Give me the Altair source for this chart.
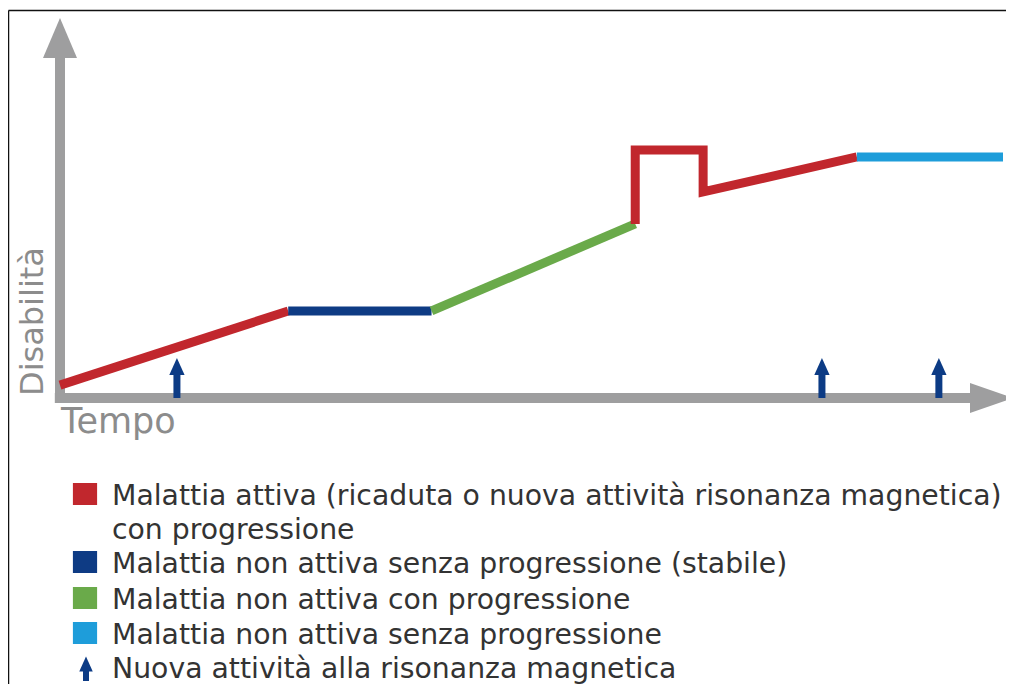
import altair as alt
import pandas as pd

# ---------------- data (time 0-100, disability 0-100) ----------------
seg_state = ["attiva", "stabile", "progressione", "attiva", "senza"]
seg_t = [[0, 24.2], [24.2, 39.4], [39.4, 61.0], [61.0, 61.0, 68.2, 68.2, 84.5], [84.5, 100]]
seg_d = [[5.2, 35.1], [35.1, 35.1], [35.1, 70.2], [70.2, 100, 100, 83.1, 97.2], [97.2, 97.2]]
mri_t = [12.4, 80.8, 93.2]

state_keys = ["attiva", "stabile", "progressione", "senza"]
state_colors = ["#C1272D", "#0E3B84", "#6AAA4A", "#1E9DDA"]
legend_labels = [
    ["Malattia attiva (ricaduta o nuova attività risonanza magnetica)", "con progressione"],
    ["Malattia non attiva senza progressione (stabile)"],
    ["Malattia non attiva con progressione"],
    ["Malattia non attiva senza progressione"],
]
arrow_label = "Nuova attività alla risonanza magnetica"
x_title = "Tempo"
y_title = "Disabilità"

# ---------------- layout ----------------
W, H = 998, 676
PX_T = 9.43      # pixels per time unit
PX_D = 2.48      # pixels per disability unit
X0, Y0 = 60 - 8, 398 - 8   # origin in plot coords
x_dom = [(0 - X0) / PX_T, (W - X0) / PX_T]
y_dom = [(Y0 - H) / PX_D, Y0 / PX_D]
xs = alt.Scale(domain=x_dom, nice=False, zero=False)
ys = alt.Scale(domain=y_dom, nice=False, zero=False)
AX = "#9E9E9F"
NAVY = "#0C3B85"
FONT = "DejaVu Sans"

rows = []
for i, (st, ts, ds) in enumerate(zip(seg_state, seg_t, seg_d)):
    for j, (t, d) in enumerate(zip(ts, ds)):
        rows.append({"seg": i, "state": st, "t": t, "d": d, "o": j})
df_line = pd.DataFrame(rows)

color_scale = alt.Scale(domain=state_keys, range=state_colors)

X = lambda f: alt.X(f, type="quantitative", scale=xs, axis=None)
Y = lambda f: alt.Y(f, type="quantitative", scale=ys, axis=None)

# axes (grey bars with arrowheads)
df_axes = pd.DataFrame([
    {"t": 0, "d": -1.6, "t2": 0, "d2": (398 - 58) / PX_D},
    {"t": -0.55, "d": 0, "t2": (972 - 60) / PX_T, "d2": 0},
])
axes = alt.Chart(df_axes).mark_rule(color=AX, strokeWidth=10, strokeCap="butt").encode(
    x=X("t"), y=Y("d"), x2="t2", y2="d2")

yhead = alt.Chart(pd.DataFrame([{"t": 0, "d": (398 - 38) / PX_D}])).mark_point(
    shape="M0,-1L-0.85,1L0.85,1Z", size=1600, filled=True, opacity=1, color=AX, strokeWidth=0
).encode(x=X("t"), y=Y("d"))
xhead = alt.Chart(pd.DataFrame([{"t": (991.5 - 60) / PX_T, "d": 0}])).mark_point(
    shape="M1,0L-1,-0.7L-1,0.7Z", size=1849, filled=True, opacity=1, color=AX, strokeWidth=0
).encode(x=X("t"), y=Y("d"))

lines = alt.Chart(df_line).mark_line(strokeWidth=9, strokeJoin="miter", strokeCap="butt").encode(
    x=X("t"), y=Y("d"), detail="seg:N", order="o:Q",
    color=alt.Color("state:N", scale=color_scale, legend=None))

# MRI arrows
df_mri = pd.DataFrame({"t": mri_t, "d0": 0.0, "d1": (398 - 371) / PX_D, "dh": (398 - 366.5) / PX_D})
stems = alt.Chart(df_mri).mark_rule(color=NAVY, strokeWidth=7, strokeCap="butt").encode(
    x=X("t"), y=Y("d0"), y2="d1")
heads = alt.Chart(df_mri).mark_point(
    shape="M0,-1L-0.9,1L0.9,1Z", size=289, filled=True, opacity=1, color=NAVY, strokeWidth=0
).encode(x=X("t"), y=Y("dh"))

# axis titles
xt = alt.Chart(pd.DataFrame({"s": [x_title]})).mark_text(
    font=FONT, fontSize=35, color="#8C8C8C", align="left", baseline="alphabetic"
).encode(x=alt.value(61 - 8), y=alt.value(433 - 8), text="s:N")
yt = alt.Chart(pd.DataFrame({"s": [y_title]})).mark_text(
    font=FONT, fontSize=32, color="#8C8C8C", align="left", baseline="alphabetic", angle=270
).encode(x=alt.value(43 - 8), y=alt.value(396 - 8), text="s:N")

# legend (drawn manually)
leg_rows = []
sq_rows = []
base = [505, 573, 609, 644]
for k, (key, col, labs) in enumerate(zip(state_keys, state_colors, legend_labels)):
    sq_rows.append({"key": key, "x": 85 - 8, "y": base[k] - 11 - 8})
    for m, lab in enumerate(labs):
        leg_rows.append({"s": lab, "x": 112 - 8, "y": base[k] + 34 * m - 8})
leg_rows.append({"s": arrow_label, "x": 112 - 8, "y": 678 - 8})
df_leg = pd.DataFrame(leg_rows)
df_sq = pd.DataFrame(sq_rows)

leg_text = alt.Chart(df_leg).mark_text(
    font=FONT, fontSize=28.3, color="#333333", align="left", baseline="alphabetic"
).encode(x=alt.X("x:Q", scale=None), y=alt.Y("y:Q", scale=None), text="s:N")
leg_sq = alt.Chart(df_sq).mark_point(
    shape="M-1.1,-1L1.1,-1L1.1,1L-1.1,1Z", size=484, filled=True, opacity=1, strokeWidth=0
).encode(x=alt.X("x:Q", scale=None), y=alt.Y("y:Q", scale=None),
         color=alt.Color("key:N", scale=color_scale, legend=None))
df_la = pd.DataFrame([{"x": 86 - 8, "y": 664 - 8, "y2": 681 - 8, "yh": 664 - 8}])
leg_arrow_stem = alt.Chart(df_la).mark_rule(color=NAVY, strokeWidth=6, strokeCap="butt").encode(
    x=alt.X("x:Q", scale=None), y=alt.Y("y:Q", scale=None), y2="y2:Q")
leg_arrow_head = alt.Chart(df_la).mark_point(
    shape="M0,-1L-0.9,1L0.9,1Z", size=225, filled=True, opacity=1, color=NAVY, strokeWidth=0
).encode(x=alt.X("x:Q", scale=None), y=alt.Y("yh:Q", scale=None))

# frame lines (thin black border top and left)
frame = alt.Chart(pd.DataFrame([{"x": 0.5, "y": 2.5, "x2": W, "y2": 2.5},
                                {"x": 0.5, "y": 2.5, "x2": 0.5, "y2": H}])).mark_rule(
    color="#111111", strokeWidth=1.5).encode(
    x=alt.X("x:Q", scale=None), y=alt.Y("y:Q", scale=None), x2="x2:Q", y2="y2:Q")

chart = alt.layer(
    frame, axes, yhead, xhead, lines, stems, heads, xt, yt,
    leg_sq, leg_text, leg_arrow_stem, leg_arrow_head
).properties(
    width=W, height=H, padding=0, autosize=alt.AutoSizeParams(type="none"), background="white"
).configure_view(stroke=None)

chart.save("out.html", embed_options={"renderer": "svg", "actions": False})
